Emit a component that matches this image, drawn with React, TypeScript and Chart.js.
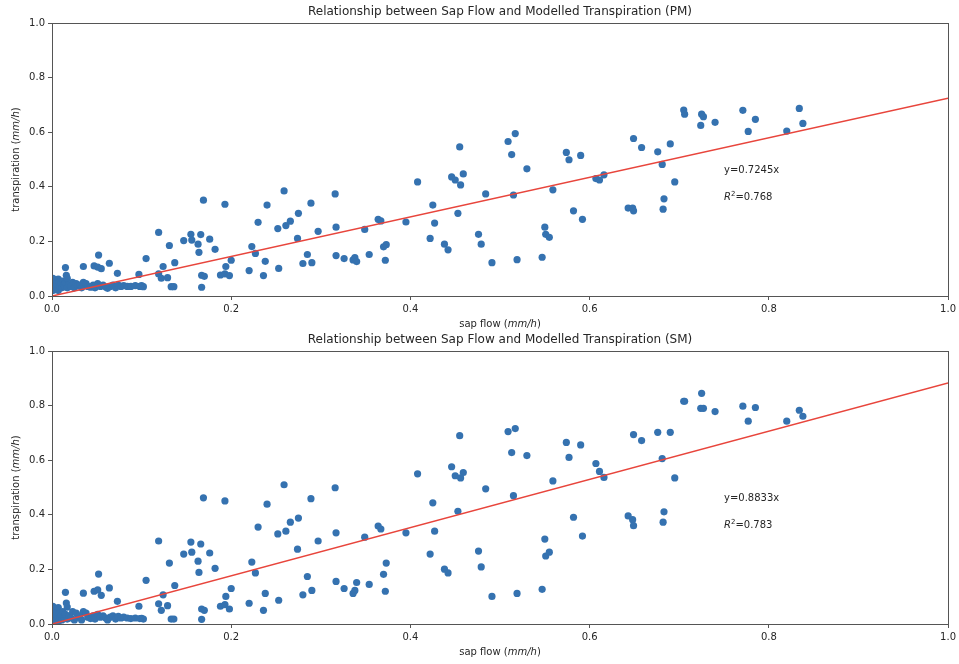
import React, { useEffect, useRef } from "react";
import { Chart, registerables } from "chart.js";

Chart.register(...registerables);

// ---------- data ----------
// Sap flow values shared by both panels (mm/h)
const sapFlowMain = [
  0.119, 0.169, 0.193, 0.131, 0.105, 0.124, 0.119, 0.122, 0.129, 0.097,
  0.100, 0.102, 0.133, 0.136, 0.137, 0.147, 0.155, 0.156, 0.163, 0.164,
  0.166, 0.176, 0.182, 0.167, 0.167, 0.170, 0.188, 0.193, 0.198, 0.194,
  0.200, 0.220, 0.223, 0.227, 0.230, 0.236, 0.238, 0.240, 0.252, 0.253,
  0.259, 0.261, 0.266, 0.274, 0.275, 0.280, 0.285, 0.289, 0.290, 0.297,
  0.316, 0.317, 0.317, 0.326, 0.336, 0.338, 0.340, 0.349, 0.354, 0.364,
  0.367, 0.370, 0.373, 0.372, 0.395, 0.408, 0.422, 0.425, 0.427, 0.438,
  0.442, 0.446, 0.450, 0.455, 0.459, 0.456, 0.453, 0.476, 0.479, 0.484,
  0.491, 0.509, 0.513, 0.517, 0.515, 0.519, 0.530, 0.547, 0.550, 0.551,
  0.555, 0.559, 0.574, 0.577, 0.582, 0.590, 0.592, 0.607, 0.611, 0.616,
  0.643, 0.648, 0.649, 0.649, 0.658, 0.676, 0.681, 0.682, 0.683, 0.690,
  0.695, 0.705, 0.706, 0.724, 0.725, 0.727, 0.740, 0.771, 0.777, 0.785,
  0.820, 0.834, 0.838,
];
const pmMain = [
  0.233, 0.351, 0.336, 0.185, 0.137, 0.108, 0.081, 0.065, 0.067, 0.079,
  0.038, 0.034, 0.034, 0.034, 0.122, 0.203, 0.226, 0.205, 0.190, 0.160,
  0.225, 0.208, 0.171, 0.032, 0.076, 0.072, 0.077, 0.081, 0.075, 0.108,
  0.131, 0.093, 0.181, 0.156, 0.270, 0.075, 0.127, 0.333, 0.247, 0.101,
  0.385, 0.258, 0.274, 0.211, 0.303, 0.119, 0.152, 0.340, 0.122, 0.237,
  0.374, 0.252, 0.148, 0.137, 0.132, 0.141, 0.126, 0.244, 0.152, 0.281,
  0.275, 0.180, 0.188, 0.131, 0.271, 0.418, 0.211, 0.333, 0.267, 0.190,
  0.169, 0.436, 0.425, 0.546, 0.447, 0.407, 0.303, 0.226, 0.190, 0.374,
  0.122, 0.566, 0.518, 0.595, 0.370, 0.133, 0.466, 0.142, 0.252, 0.226,
  0.215, 0.389, 0.526, 0.499, 0.312, 0.515, 0.281, 0.430, 0.425, 0.444,
  0.322, 0.322, 0.312, 0.577, 0.544, 0.528, 0.482, 0.318, 0.356, 0.557,
  0.418, 0.681, 0.666, 0.625, 0.666, 0.657, 0.636, 0.680, 0.603, 0.647,
  0.604, 0.687, 0.632,
];
const smMain = [
  0.304, 0.462, 0.451, 0.223, 0.160, 0.107, 0.074, 0.050, 0.067, 0.065,
  0.021, 0.018, 0.018, 0.018, 0.141, 0.256, 0.300, 0.263, 0.230, 0.189,
  0.293, 0.260, 0.204, 0.017, 0.055, 0.050, 0.065, 0.071, 0.055, 0.101,
  0.130, 0.076, 0.227, 0.187, 0.355, 0.050, 0.112, 0.439, 0.330, 0.087,
  0.510, 0.340, 0.373, 0.274, 0.388, 0.107, 0.174, 0.459, 0.123, 0.304,
  0.499, 0.334, 0.156, 0.130, 0.112, 0.123, 0.152, 0.318, 0.145, 0.359,
  0.348, 0.182, 0.223, 0.120, 0.334, 0.550, 0.256, 0.444, 0.340, 0.201,
  0.187, 0.576, 0.543, 0.690, 0.555, 0.535, 0.413, 0.267, 0.209, 0.495,
  0.101, 0.705, 0.628, 0.716, 0.470, 0.112, 0.617, 0.127, 0.311, 0.249,
  0.263, 0.524, 0.665, 0.610, 0.391, 0.656, 0.322, 0.588, 0.559, 0.537,
  0.396, 0.382, 0.360, 0.694, 0.672, 0.702, 0.606, 0.373, 0.411, 0.702,
  0.535, 0.816, 0.816, 0.790, 0.845, 0.790, 0.778, 0.798, 0.743, 0.793,
  0.743, 0.783, 0.761,
];

// Dense cluster of small values near the origin
const sapFlowLow = [
  0.001, 0.001, 0.002, 0.002, 0.003, 0.003, 0.004, 0.005, 0.005, 0.006,
  0.007, 0.007, 0.008, 0.009, 0.010, 0.011, 0.012, 0.013, 0.014, 0.015,
  0.017, 0.019, 0.021, 0.023, 0.025, 0.027, 0.029, 0.031, 0.033, 0.035,
  0.038, 0.040, 0.043, 0.046, 0.048, 0.051, 0.054, 0.057, 0.060, 0.062,
  0.065, 0.068, 0.071, 0.074, 0.077, 0.080, 0.084, 0.088, 0.093, 0.098,
  0.015, 0.035, 0.052, 0.047, 0.051, 0.055, 0.064, 0.073, 0.016, 0.017,
];
const pmLow = [
  0.065, 0.020, 0.050, 0.035, 0.060, 0.025, 0.045, 0.055, 0.030, 0.040,
  0.062, 0.020, 0.050, 0.035, 0.045, 0.030, 0.055, 0.040, 0.035, 0.048,
  0.030, 0.042, 0.035, 0.050, 0.030, 0.045, 0.038, 0.040, 0.030, 0.050,
  0.045, 0.035, 0.032, 0.040, 0.030, 0.045, 0.035, 0.040, 0.033, 0.028,
  0.035, 0.040, 0.030, 0.040, 0.035, 0.038, 0.035, 0.035, 0.038, 0.035,
  0.104, 0.108, 0.150, 0.110, 0.106, 0.100, 0.120, 0.083, 0.076, 0.065,
];
const smLow = [
  0.065, 0.005, 0.050, 0.020, 0.055, 0.010, 0.035, 0.045, 0.015, 0.030,
  0.060, 0.008, 0.040, 0.020, 0.030, 0.015, 0.045, 0.025, 0.020, 0.035,
  0.018, 0.030, 0.022, 0.045, 0.015, 0.040, 0.025, 0.030, 0.015, 0.045,
  0.040, 0.025, 0.020, 0.030, 0.018, 0.035, 0.025, 0.030, 0.022, 0.015,
  0.025, 0.030, 0.018, 0.028, 0.022, 0.025, 0.022, 0.020, 0.022, 0.020,
  0.116, 0.113, 0.183, 0.120, 0.125, 0.105, 0.132, 0.083, 0.077, 0.062,
];

// Fitted slopes and goodness of fit
const pmSlope = 0.7245;
const pmR2 = 0.768;
const smSlope = 0.8833;
const smR2 = 0.783;

const fitX = [0, 1];
const tickValues = [0, 0.2, 0.4, 0.6, 0.8, 1.0];
const tickLabels = ["0.0", "0.2", "0.4", "0.6", "0.8", "1.0"];

const FONT = "'DejaVu Sans', Verdana, sans-serif";
const POINT_COLOR = "#3572b0";
const LINE_COLOR = "#e8453c";
const SPINE = "#555555";
const TEXT = "#262626";

type Part = { text: string; font: string; dy?: number };

function drawParts(ctx: CanvasRenderingContext2D, parts: Part[], x: number, y: number, align: "left" | "center") {
  let total = 0;
  for (const p of parts) {
    ctx.font = p.font;
    total += ctx.measureText(p.text).width;
  }
  let cx = align === "center" ? x - total / 2 : x;
  ctx.textAlign = "left";
  for (const p of parts) {
    ctx.font = p.font;
    ctx.fillText(p.text, cx, y + (p.dy || 0));
    cx += ctx.measureText(p.text).width;
  }
}

function makeChart(
  canvas: HTMLCanvasElement,
  title: string,
  xs: number[],
  ys: number[],
  slope: number,
  r2: number,
  titleCenterY: number,
  topPad: number,
  xAxisHeight: number
) {
  const points = xs.map((x, i) => ({ x, y: ys[i] }));
  const fit = fitX.map((x) => ({ x, y: slope * x }));

  const decor = {
    id: "decor",
    afterDraw(chart: any) {
      const { ctx, chartArea } = chart;
      const xs = chart.scales.x;
      const ys = chart.scales.y;
      ctx.save();
      // spines
      ctx.strokeStyle = SPINE;
      ctx.lineWidth = 1;
      ctx.strokeRect(
        Math.round(chartArea.left) + 0.5,
        Math.round(chartArea.top) + 0.5,
        Math.round(chartArea.right - chartArea.left),
        Math.round(chartArea.bottom - chartArea.top)
      );
      ctx.fillStyle = TEXT;
      const cxm = (chartArea.left + chartArea.right) / 2;
      // title, centred over the axes
      ctx.textBaseline = "middle";
      drawParts(ctx, [{ text: title, font: `12px ${FONT}` }], cxm, titleCenterY, "center");
      ctx.textBaseline = "alphabetic";
      // x axis title
      const norm = `10px ${FONT}`;
      const ital = `italic 10px ${FONT}`;
      drawParts(
        ctx,
        [
          { text: "sap flow (", font: norm },
          { text: "mm/h", font: ital },
          { text: ")", font: norm },
        ],
        cxm,
        chartArea.bottom + 31,
        "center"
      );
      // y axis title
      ctx.save();
      ctx.translate(19, (chartArea.top + chartArea.bottom) / 2);
      ctx.rotate(-Math.PI / 2);
      drawParts(
        ctx,
        [
          { text: "transpiration (", font: norm },
          { text: "mm/h", font: ital },
          { text: ")", font: norm },
        ],
        0,
        0,
        "center"
      );
      ctx.restore();
      // annotations
      const ax = xs.getPixelForValue(0.75);
      drawParts(ctx, [{ text: `y=${slope}x`, font: norm }], ax, ys.getPixelForValue(0.45), "left");
      drawParts(
        ctx,
        [
          { text: "R", font: ital },
          { text: "2", font: `7px ${FONT}`, dy: -4 },
          { text: `=${r2}`, font: norm },
        ],
        ax,
        ys.getPixelForValue(0.35),
        "left"
      );
      ctx.restore();
    },
  };

  const axisCommon = (isY: boolean) => ({
    type: "linear" as const,
    min: 0,
    max: 1,
    afterBuildTicks: (scale: any) => {
      scale.ticks = tickValues.map((v) => ({ value: v }));
    },
    afterFit: (scale: any) => {
      if (isY) scale.width = 52;
      else scale.height = xAxisHeight;
    },
    grid: {
      display: true,
      drawOnChartArea: false,
      drawTicks: true,
      tickLength: 4,
      color: SPINE,
      lineWidth: 1,
    },
    border: { display: true, color: SPINE, width: 1 },
    ticks: {
      padding: 3,
      color: TEXT,
      font: { family: FONT, size: 10 },
      maxRotation: 0,
      autoSkip: false,
      callback: (v: any) => {
        const i = tickValues.findIndex((t) => Math.abs(t - Number(v)) < 1e-9);
        return i >= 0 ? tickLabels[i] : "";
      },
    },
  });

  return new Chart(canvas, {
    type: "scatter",
    data: {
      datasets: [
        {
          type: "line",
          data: fit,
          borderColor: LINE_COLOR,
          borderWidth: 1.5,
          pointRadius: 0,
          order: 0,
        } as any,
        {
          type: "scatter",
          data: points,
          backgroundColor: POINT_COLOR,
          borderWidth: 0,
          pointRadius: 3.6,
          order: 1,
        },
      ],
    },
    options: {
      responsive: false,
      animation: false,
      devicePixelRatio: 1,
      layout: { padding: { left: 0, right: 9, top: topPad, bottom: 0 } },
      plugins: {
        legend: { display: false },
        tooltip: { enabled: false },
        title: { display: false },
      },
      scales: {
        x: axisCommon(false) as any,
        y: axisCommon(true) as any,
      },
    },
    plugins: [decor],
  });
}

export default function App() {
  const topRef = useRef<HTMLCanvasElement>(null);
  const botRef = useRef<HTMLCanvasElement>(null);

  useEffect(() => {
    const xs = [...sapFlowMain, ...sapFlowLow];
    const pm = [...pmMain, ...pmLow];
    const sm = [...smMain, ...smLow];
    const c1 = makeChart(
      topRef.current!,
      "Relationship between Sap Flow and Modelled Transpiration (PM)",
      xs,
      pm,
      pmSlope,
      pmR2,
      12.3,
      23,
      34
    );
    const c2 = makeChart(
      botRef.current!,
      "Relationship between Sap Flow and Modelled Transpiration (SM)",
      xs,
      sm,
      smSlope,
      smR2,
      10.3,
      21,
      40
    );
    return () => {
      c1.destroy();
      c2.destroy();
    };
  }, []);

  return (
    <div style={{ position: "absolute", left: 0, top: 0, width: 959, height: 664, background: "#fff" }}>
      <canvas ref={topRef} width={959} height={330} style={{ display: "block", width: 959, height: 330 }} />
      <canvas ref={botRef} width={959} height={334} style={{ display: "block", width: 959, height: 334 }} />
    </div>
  );
}
